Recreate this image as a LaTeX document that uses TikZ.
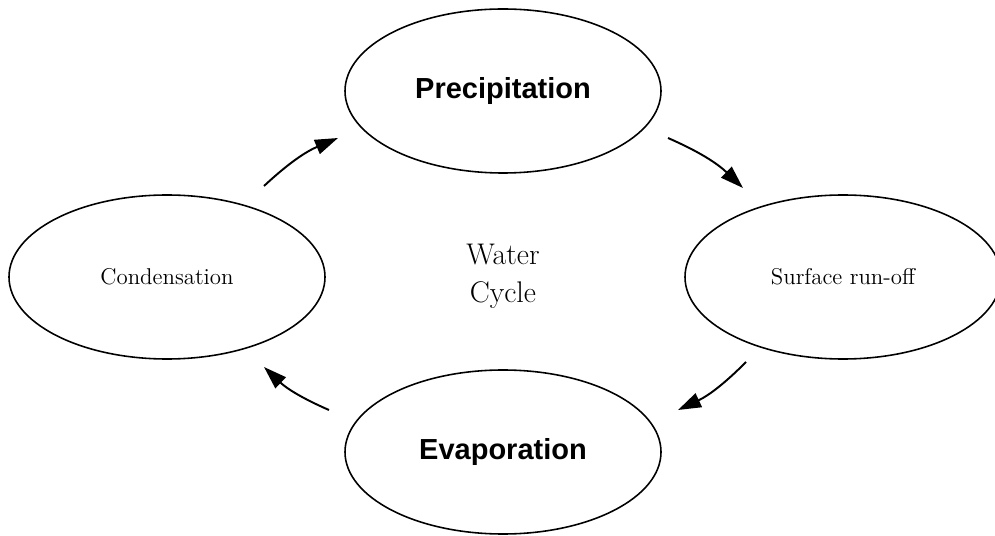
\documentclass[tikz,border=0pt]{standalone}
\usepackage{fontspec}
\newfontfamily\headfont{Liberation Sans}
\usetikzlibrary{shapes.geometric,arrows.meta}

\begin{document}
\begin{tikzpicture}[
		phase/.style={draw, ellipse, line width=0.9pt, inner sep=0pt,
			minimum width=6.32cm, minimum height=3.28cm},
		flow/.style={-{Triangle[length=4.6mm,width=3mm]}, line width=1.1pt, bend left=10}]
			\useasboundingbox (0,0) rectangle (19.9,-10.72);
			
			\node[phase] (prec) at (10.06,-1.82) {\headfont\bfseries\fontsize{16.5}{19}\selectfont Precipitation};
			\node[phase] (cond) at (3.34,-5.54) {\fontsize{13}{15}\selectfont Condensation};
			\node[phase] (surf) at (16.86,-5.54) {\fontsize{13}{15}\selectfont Surface run-off};
			\node[phase] (evap) at (10.06,-9.04) {\headfont\bfseries\fontsize{16.5}{19}\selectfont Evaporation};
			
			\node[align=center, font=\fontsize{17}{21.5}\selectfont] (water) at (10.06,-5.52) {Water\\Cycle};
			
			\coordinate (c2p a) at (5.28,-3.72);
			\coordinate (c2p b) at (6.76,-2.76);
			\coordinate (p2s a) at (13.36,-2.76);
			\coordinate (p2s b) at (14.86,-3.76);
			\coordinate (s2e a) at (14.92,-7.24);
			\coordinate (s2e b) at (13.56,-8.2);
			\coordinate (e2c a) at (6.58,-8.2);
			\coordinate (e2c b) at (5.28,-7.34);
			
			\draw[flow] (c2p a) to (c2p b);
			\draw[flow] (p2s a) to (p2s b);
			\draw[flow] (s2e a) to (s2e b);
			\draw[flow] (e2c a) to (e2c b);
		\end{tikzpicture}
\end{document}
